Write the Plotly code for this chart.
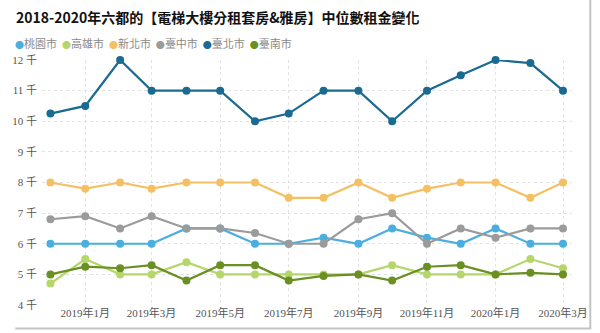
import plotly.graph_objects as go

# Monthly median rents (thousand NTD), Dec 2018 – Mar 2020
months = [
    "2018-12-01", "2019-01-01", "2019-02-01", "2019-03-01", "2019-04-01", "2019-05-01",
    "2019-06-01", "2019-07-01", "2019-08-01", "2019-09-01", "2019-10-01", "2019-11-01",
    "2019-12-01", "2020-01-01", "2020-02-01", "2020-03-01",
]

taoyuan   = [6, 6, 6, 6, 6.5, 6.5, 6, 6, 6.2, 6, 6.5, 6.2, 6, 6.5, 6, 6]
kaohsiung = [4.7, 5.5, 5.0, 5.0, 5.4, 5.0, 5.0, 5.0, 5.0, 5.0, 5.3, 5.0, 5.0, 5.0, 5.5, 5.2]
newtaipei = [8, 7.8, 8, 7.8, 8, 8, 8, 7.5, 7.5, 8, 7.5, 7.8, 8, 8, 7.5, 8]
taichung  = [6.8, 6.9, 6.5, 6.9, 6.5, 6.5, 6.35, 6.0, 6.0, 6.8, 7.0, 6.0, 6.5, 6.2, 6.5, 6.5]
taipei    = [10.25, 10.5, 12, 11, 11, 11, 10, 10.25, 11, 11, 10, 11, 11.5, 12, 11.9, 11]
tainan    = [5.0, 5.25, 5.2, 5.3, 4.8, 5.3, 5.3, 4.8, 4.95, 5.0, 4.8, 5.25, 5.3, 5.0, 5.05, 5.0]

series_names = ["桃園市", "高雄市", "新北市", "臺中市", "臺北市", "臺南市"]
series_values = [taoyuan, kaohsiung, newtaipei, taichung, taipei, tainan]
series_colors = ["#4aaede", "#b4d66a", "#f4c064", "#9b9b9b", "#1a6a91", "#6a8f22"]

y_ticks = [4, 5, 6, 7, 8, 9, 10, 11, 12]
y_ticktext = [f"{v} 千" for v in y_ticks]

title_text = "2018-2020年六都的【電梯大樓分租套房&雅房】中位數租金變化"

fig = go.Figure()
for name, vals, color in zip(series_names, series_values, series_colors):
    fig.add_trace(go.Scatter(
        x=months, y=vals, name=name, mode="lines+markers",
        line=dict(color=color, width=2.2),
        marker=dict(color=color, size=8),
        cliponaxis=False,
    ))

# custom inline legend as a single line of text
legend_html = "  ".join(
    f"<span style='color:{c};font-size:9px'>●</span>{n}"
    for n, c in zip(series_names, series_colors)
)

L, R, T, B = 37, 27, 60, 28
W, H = 600, 333
pw, ph = W - L - R, H - T - B


def px_x(p):
    return (p - L) / pw


def px_y(p):
    return (H - B - p) / ph


fig.update_layout(
    width=W, height=H,
    margin=dict(l=L, r=R, t=T, b=B),
    paper_bgcolor="white", plot_bgcolor="white",
    showlegend=False,
    font=dict(family="Noto Sans CJK TC", color="#666"),
    xaxis=dict(
        type="date",
        range=["2018-11-23 12:00", "2020-03-09"],
        tick0="2019-01-01", dtick="M2",
        tickformat="%Y年%-m月",
        tickfont=dict(family="Liberation Serif, Noto Sans CJK TC", size=11, color="#555"),
        showgrid=True, gridcolor="#e2e2e2", griddash="dot", gridwidth=1,
        showline=False, zeroline=False, ticks="",
    ),
    yaxis=dict(
        range=[4, 12],
        tickvals=y_ticks, ticktext=y_ticktext,
        tickfont=dict(family="Liberation Serif, Noto Sans CJK TC", size=11, color="#555"),
        showgrid=True, gridcolor="#e2e2e2", griddash="dot", gridwidth=1,
        showline=False, zeroline=False, ticks="", ticklabelstandoff=4,
    ),
    annotations=[
        dict(text=f"<b>{title_text}</b>", xref="paper", yref="paper",
             x=px_x(9), y=px_y(17), xanchor="left", yanchor="middle",
             showarrow=False, font=dict(size=14, color="#111", family="Noto Sans CJK TC")),
        dict(text=legend_html, xref="paper", yref="paper",
             x=px_x(8), y=px_y(43), xanchor="left", yanchor="middle",
             showarrow=False, font=dict(size=11, color="#8a8a8a", family="Noto Sans CJK TC")),
    ],
    shapes=[
        dict(type="line", xref="paper", yref="paper",
             x0=px_x(591.5), x1=px_x(591.5), y0=px_y(0), y1=px_y(329),
             line=dict(color="#c4c4c4", width=2)),
        dict(type="line", xref="paper", yref="paper",
             x0=px_x(10), x1=px_x(592), y0=px_y(328.5), y1=px_y(328.5),
             line=dict(color="#c4c4c4", width=2)),
    ],
)

fig.write_html("out.html")
